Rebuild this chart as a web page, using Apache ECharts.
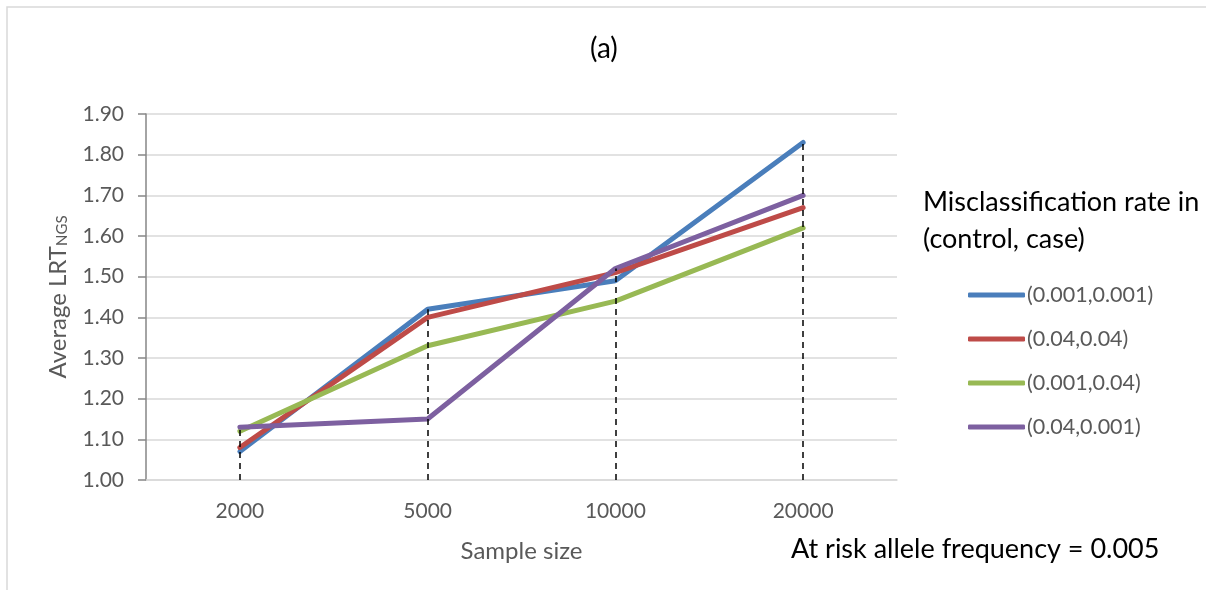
<!DOCTYPE html>
<html><head><meta charset="utf-8">
<script src="https://cdn.jsdelivr.net/npm/echarts@6/dist/echarts.min.js"></script>
<style>html,body{margin:0;padding:0;background:#fff}#c{width:1206px;height:590px}</style>
</head><body><div id="c"></div>
<script>
const categories = ['2000', '5000', '10000', '20000'];
const seriesNames = ['(0.001,0.001)', '(0.04,0.04)', '(0.001,0.04)', '(0.04,0.001)'];
const s1 = [1.07, 1.42, 1.49, 1.83];
const s2 = [1.08, 1.40, 1.51, 1.67];
const s3 = [1.12, 1.33, 1.44, 1.62];
const s4 = [1.13, 1.15, 1.52, 1.70];
const yTicks = [1.00, 1.10, 1.20, 1.30, 1.40, 1.50, 1.60, 1.70, 1.80, 1.90];
const colors = ['#4A7EBB', '#BE4B48', '#98B954', '#7D60A0'];

const all = [s1, s2, s3, s4];
const dropData = categories.map((c, i) => [
  { coord: [i, yTicks[0]] },
  { coord: [i, Math.max(...all.map(s => s[i]))] }
]);

const FONT = 'Lato';
const chart = echarts.init(document.getElementById('c'));
chart.setOption({
  animation: false,
  textStyle: { fontFamily: FONT },
  grid: { left: 146, right: 309, top: 114, bottom: 110 },
  graphic: [
    { type: 'rect', shape: { x: 7, y: 7, width: 1300, height: 700 }, style: { fill: 'none', stroke: '#d9d9d9', lineWidth: 1.5 }, silent: true },
    { type: 'text', left: 590, top: 35, style: { text: '(a)', font: '28px ' + FONT, fill: '#000' } },
    { type: 'text', x: 923, y: 184, style: { text: 'Misclassification rate in\n(control, case)', font: '27px ' + FONT, fill: '#000', lineHeight: 37 } },
    { type: 'text', x: 791, y: 536, style: { text: 'At risk allele frequency = 0.005', font: '27px ' + FONT, fill: '#000' } }
  ],
  legend: {
    data: seriesNames,
    orient: 'vertical',
    left: 963,
    top: 279,
    itemWidth: 57,
    itemHeight: 5,
    itemGap: 22,
    icon: 'roundRect',
    textStyle: { fontFamily: FONT, fontSize: 21.5, color: '#595959', padding: [0, 0, 0, -3] }
  },
  xAxis: {
    type: 'category',
    data: categories,
    boundaryGap: true,
    name: 'Sample size',
    nameLocation: 'middle',
    nameGap: 59,
    nameTextStyle: { fontFamily: FONT, fontSize: 24, color: '#595959' },
    axisLine: { lineStyle: { color: '#d9d9d9', width: 1.5 } },
    axisTick: { show: false },
    axisLabel: { margin: 21, fontFamily: FONT, fontSize: 21, color: '#595959' },
    splitLine: { show: false }
  },
  yAxis: {
    type: 'value',
    min: 1.0,
    max: 1.9,
    interval: 0.1,
    name: '{m|Average LRT}{s|NGS}',
    nameLocation: 'middle',
    nameGap: 76,
    nameRotate: 90,
    nameTextStyle: {
      rich: {
        m: { fontFamily: FONT, fontSize: 24, color: '#595959' },
        s: { fontFamily: FONT, fontSize: 15, color: '#595959', verticalAlign: 'bottom', padding: [7, 0, 0, 0] }
      }
    },
    axisLine: { show: true, lineStyle: { color: '#868686', width: 1.5 } },
    axisTick: { show: true, length: 8, lineStyle: { color: '#868686', width: 1.5 } },
    axisLabel: { margin: 22, fontFamily: FONT, fontSize: 21, color: '#595959', formatter: v => v.toFixed(2) },
    splitLine: { lineStyle: { color: '#d9d9d9', width: 1.5 } }
  },
  series: [s1, s2, s3, s4].map((d, k) => ({
    name: seriesNames[k],
    type: 'line',
    data: d,
    color: colors[k],
    symbol: 'none',
    lineStyle: { width: 5, color: colors[k], cap: 'round', join: 'round' },
    z: 2
  })).concat([{
    name: 'drop',
    type: 'line',
    data: [],
    symbol: 'none',
    z: 3,
    markLine: {
      silent: true,
      symbol: ['none', 'none'],
      label: { show: false },
      lineStyle: { color: '#000', type: [6, 5], width: 1.5 },
      data: dropData
    }
  }])
});
</script></body></html>
